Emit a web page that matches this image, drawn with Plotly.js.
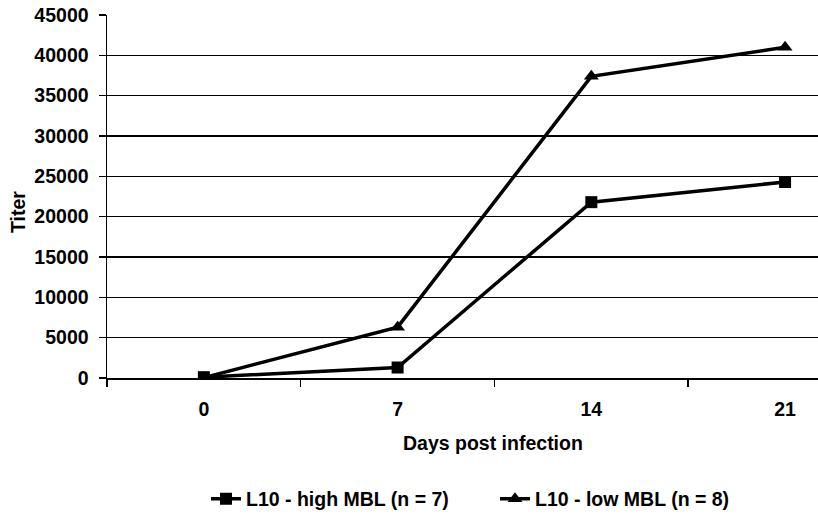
<!DOCTYPE html>
<html>
<head>
<meta charset="utf-8">
<script src="https://cdn.plot.ly/plotly-3.0.1.min.js"></script>
<style>html,body{margin:0;padding:0;background:#fff;overflow:hidden}</style>
</head>
<body>
<div id="chart" style="width:818px;height:521px"></div>
<script>
const days = ['0', '7', '14', '21'];
const highMBL = [100, 1300, 21800, 24300];
const lowMBL = [50, 6300, 37400, 41000];
const seriesNames = ['L10 - high MBL (n = 7)', 'L10 - low MBL (n = 8)'];
const yTicks = [0, 5000, 10000, 15000, 20000, 25000, 30000, 35000, 40000, 45000];

const font = {family: 'Liberation Sans, Arial, sans-serif', size: 19.5, color: '#000', weight: 'bold'};

const traces = [
  {x: days, y: highMBL, name: seriesNames[0], type: 'scatter', mode: 'lines+markers',
   line: {color: '#000', width: 3.5}, marker: {symbol: 'square', size: 12, color: '#000'}},
  {x: days, y: lowMBL, name: seriesNames[1], type: 'scatter', mode: 'lines+markers',
   line: {color: '#000', width: 3.5}, marker: {symbol: 'triangle-up', size: 13, color: '#000'}}
];

const layout = {
  width: 818, height: 521,
  margin: {l: 107, r: 0, t: 15, b: 143},
  paper_bgcolor: '#fff', plot_bgcolor: '#fff',
  font: font,
  showlegend: true,
  xaxis: {
    type: 'category', range: [-0.5, 3.17], tickson: 'boundaries',
    ticks: 'outside', ticklen: 7, tickwidth: 1.5, tickcolor: '#000',
    showline: true, linecolor: '#000', linewidth: 1.5,
    showgrid: false, zeroline: false, fixedrange: true,
    tickfont: font, ticklabelstandoff: 13
  },
  yaxis: {
    range: [0, 45000], tickvals: yTicks, tickformat: 'd',
    ticks: 'outside', ticklen: 7, tickwidth: 1.5, tickcolor: '#000',
    showline: true, linecolor: '#000', linewidth: 1.5,
    showgrid: true, gridcolor: '#000', gridwidth: 1.5, zeroline: false,
    tickfont: font, ticklabelstandoff: 6
  },
  annotations: [
    {text: 'Days post infection', xref: 'paper', yref: 'paper', x: (493 - 107) / 711, y: (378 - 443) / 363,
     xanchor: 'center', yanchor: 'middle', showarrow: false, font: font},
    {text: 'Titer', xref: 'paper', yref: 'paper', x: (18 - 107) / 711, y: (378 - 212) / 363,
     xanchor: 'center', yanchor: 'middle', showarrow: false, textangle: -90, font: font}
  ],
  legend: {
    orientation: 'h', x: (206 - 107) / 711, xanchor: 'left', y: (378 - 499) / 363, yanchor: 'middle',
    font: font, bgcolor: 'rgba(0,0,0,0)', itemwidth: 30, entrywidth: 244, entrywidthmode: 'pixels'
  }
};

Plotly.newPlot('chart', traces, layout, {displayModeBar: false, staticPlot: true});
</script>
</body>
</html>
